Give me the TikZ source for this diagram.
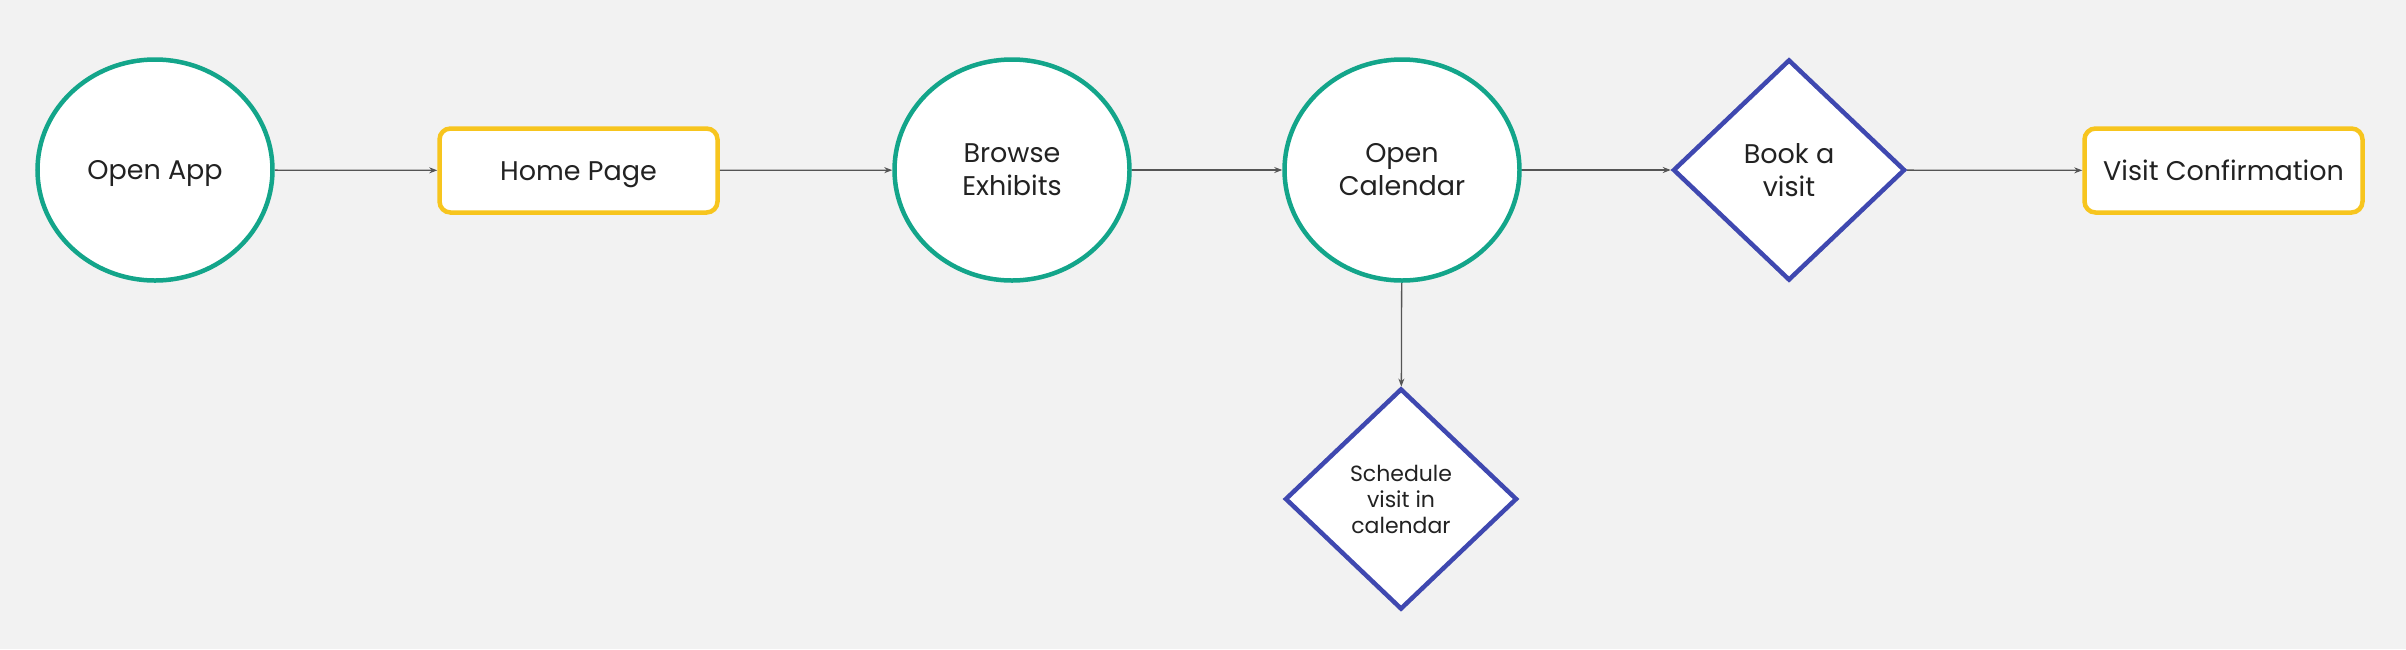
\documentclass[tikz,border=0pt]{standalone}
\usepackage{fontspec}
\setmainfont{Poppins}
\usetikzlibrary{shapes.geometric,arrows.meta}
\definecolor{bgc}{HTML}{F2F2F2}
\definecolor{greenc}{HTML}{13A58A}
\definecolor{yellowc}{HTML}{F7C51E}
\definecolor{bluec}{HTML}{3F48B0}
\definecolor{txtc}{HTML}{222222}
\definecolor{linec}{HTML}{555555}
\begin{document}
\begin{tikzpicture}[x=1pt,y=-1pt,
  every node/.style={text=txtc, font=\fontsize{27}{33}\selectfont, align=center, inner sep=0pt},
  one/.style={text height=19pt, text depth=0pt},
  circ/.style={ellipse, draw=greenc, line width=4.5pt, fill=white, minimum width=235pt, minimum height=221pt},
  box/.style={rectangle, rounded corners=11pt, draw=yellowc, line width=4.5pt, fill=white, minimum width=278pt, minimum height=84pt},
  dia/.style={diamond, draw=bluec, line width=4.5pt, fill=white, minimum width=232pt, minimum height=221pt},
  conn/.style={draw=linec, line width=1.3pt, -{Stealth[length=8pt,width=6pt]}}
]
\fill[bgc] (0,0) rectangle (2406,649);
\useasboundingbox (0,0) rectangle (2406,649);
\node[circ, one] (app) at (155,170) {Open App};
\node[box, one] (home) at (578.5,170.5) {Home Page};
\node[circ] (browse) at (1012,170) {Browse\\Exhibits};
\node[circ] (cal) at (1402,170) {Open\\Calendar};
\node[dia] (book) at (1789,170) {Book a\\visit};
\node[box, one] (conf) at (2223.5,170.5) {Visit Confirmation};
\node[dia, font=\fontsize{22}{26}\selectfont] (sched) at (1401,499) {Schedule\\visit in\\calendar};
\draw[conn] (app) -- (home);
\draw[conn] (home) -- (browse);
\draw[conn] (browse) -- (cal);
\draw[conn] (cal) -- (book);
\draw[conn] (book) -- (conf);
\draw[conn] (cal) -- (sched);
\end{tikzpicture}
\end{document}
